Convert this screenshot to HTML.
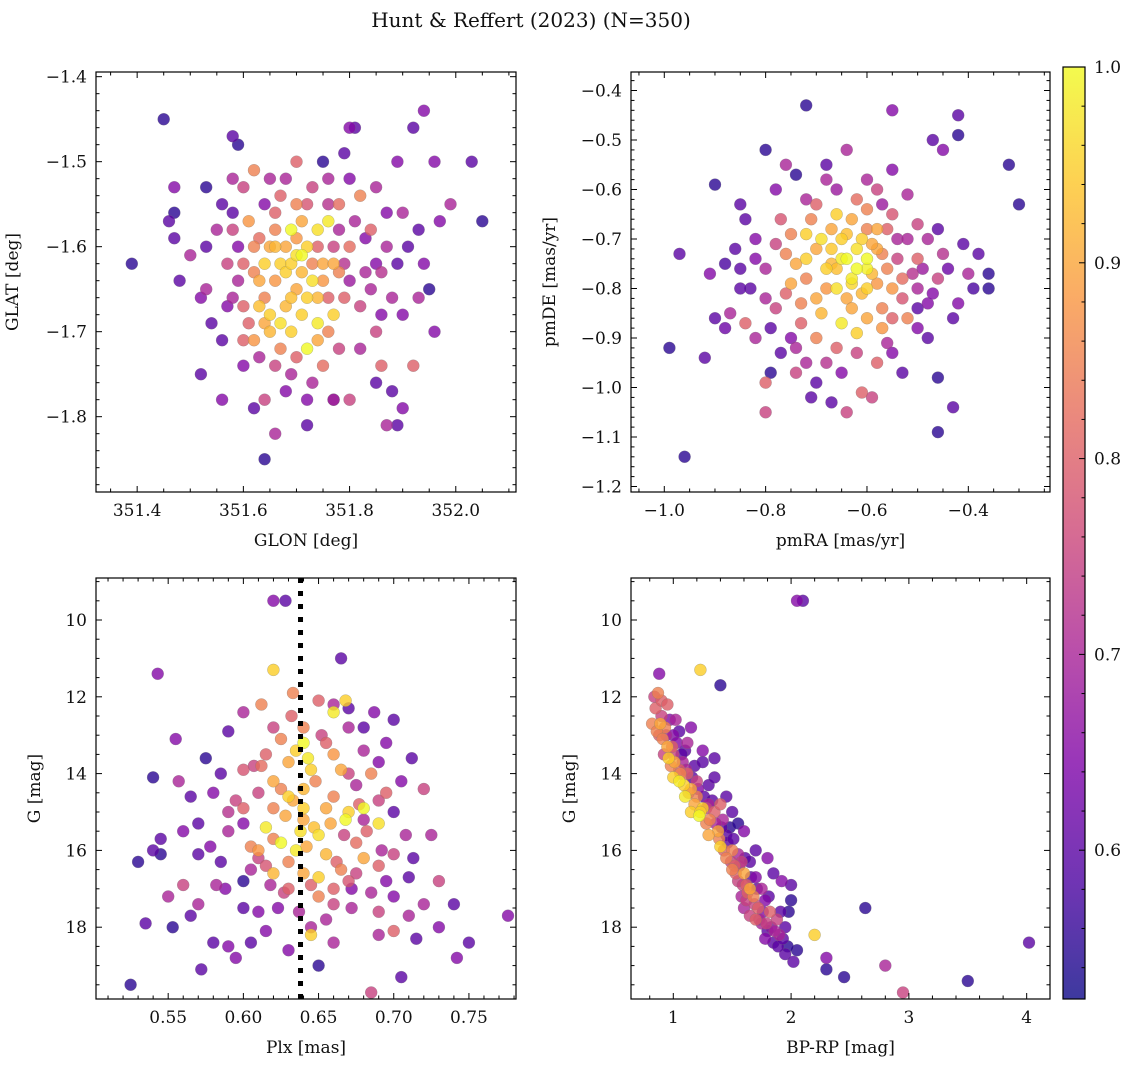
<!DOCTYPE html>
<html><head><meta charset="utf-8"><style>
html,body{margin:0;padding:0;background:#fff;}
svg text{font-family:"DejaVu Serif","Liberation Serif",serif;fill:#111;}
</style></head><body>
<svg id="fig" width="1136" height="1067" viewBox="0 0 1136 1067" xmlns="http://www.w3.org/2000/svg">
<text x="531" y="27" font-size="20" text-anchor="middle">Hunt &amp; Reffert (2023) (N=350)</text>
</svg>
<script>
// ---------- data (x, y, membership probability) ----------
const glonGlat = [
[351.39,-1.62,.55],[351.45,-1.45,.55],[351.46,-1.57,.6],[351.47,-1.53,.65],[351.47,-1.56,.55],[351.47,-1.59,.6],[351.50,-1.61,.7],[351.52,-1.75,.6],[351.53,-1.53,.55],[351.53,-1.65,.7],[351.54,-1.69,.6],[351.56,-1.78,.65],[351.58,-1.47,.6],[351.59,-1.48,.55],[351.58,-1.52,.7],[351.60,-1.71,.8],[351.64,-1.85,.55],[351.66,-1.82,.7],[351.64,-1.78,.75],[351.70,-1.5,.8],[351.72,-1.81,.6],[351.77,-1.78,.6],[351.80,-1.46,.65],[351.81,-1.46,.6],[351.80,-1.78,.75],[351.87,-1.81,.7],[351.89,-1.81,.6],[351.90,-1.79,.65],[351.92,-1.46,.6],[351.94,-1.44,.65],[351.89,-1.5,.65],[351.96,-1.5,.65],[351.99,-1.55,.7],[352.03,-1.5,.6],[352.05,-1.57,.55],[351.95,-1.65,.55],[351.96,-1.7,.65],[351.92,-1.74,.8],[351.86,-1.74,.8],[351.88,-1.77,.6],[351.77,-1.78,.7],[351.75,-1.5,.55],[351.79,-1.49,.6],[351.85,-1.53,.7],[351.90,-1.56,.7],[351.93,-1.66,.7],[351.91,-1.6,.6],[351.97,-1.57,.65],
[351.65,-1.6,.9],[351.67,-1.62,.95],[351.69,-1.58,1.0],[351.72,-1.6,.95],[351.74,-1.58,.97],[351.76,-1.57,.98],[351.70,-1.65,.9],[351.68,-1.67,.92],[351.66,-1.64,.88],[351.64,-1.66,.85],[351.62,-1.63,.85],[351.73,-1.64,.97],[351.75,-1.62,.9],[351.78,-1.63,.85],[351.80,-1.6,.82],[351.71,-1.68,.95],[351.74,-1.71,.9],[351.69,-1.7,.95],[351.67,-1.72,.85],[351.72,-1.72,1.0],[351.77,-1.68,.95],[351.79,-1.66,.8],[351.63,-1.59,.82],[351.61,-1.57,.88],[351.66,-1.56,.8],[351.70,-1.55,.85],[351.78,-1.55,.82],[351.82,-1.54,.85],[351.84,-1.58,.8],[351.60,-1.67,.8],[351.62,-1.71,.88],[351.65,-1.7,.92],[351.75,-1.74,.82],[351.85,-1.7,.75],[351.82,-1.67,.75],[351.83,-1.63,.7],[351.87,-1.6,.7],[351.57,-1.62,.75],[351.55,-1.58,.7],[351.58,-1.66,.7],[351.60,-1.53,.75],[351.62,-1.51,.85],[351.68,-1.52,.7],[351.73,-1.53,.75],[351.76,-1.52,.7],[351.88,-1.66,.7],[351.86,-1.68,.65],[351.63,-1.73,.7],[351.69,-1.75,.7],[351.73,-1.76,.7],[351.85,-1.62,.65],[351.59,-1.6,.65],[351.64,-1.55,.65],[351.71,-1.57,.9],[351.68,-1.63,.95],[351.74,-1.66,.92],[351.65,-1.68,.95],[351.70,-1.61,.97]
];
const glonGlatCore = [
[351.56,-1.55,.6],[351.58,-1.58,.75],[351.6,-1.62,.8],[351.62,-1.6,.85],[351.63,-1.64,.9],[351.64,-1.62,.95],[351.66,-1.6,.92],[351.66,-1.58,.85],[351.68,-1.6,.9],[351.69,-1.62,.95],[351.7,-1.59,.88],[351.71,-1.63,.92],[351.72,-1.66,.95],[351.73,-1.62,.85],[351.74,-1.6,.8],[351.75,-1.64,.88],[351.76,-1.66,.8],[351.77,-1.6,.75],[351.78,-1.58,.7],[351.79,-1.62,.72],[351.8,-1.64,.68],[351.81,-1.57,.7],[351.83,-1.59,.65],[351.84,-1.65,.7],[351.86,-1.63,.72],[351.87,-1.56,.65],[351.89,-1.62,.6],[351.9,-1.68,.65],[351.82,-1.72,.7],[351.78,-1.72,.75],[351.76,-1.7,.85],[351.7,-1.73,.8],[351.66,-1.74,.75],[351.64,-1.69,.9],[351.61,-1.69,.8],[351.59,-1.64,.7],[351.57,-1.67,.65],[351.56,-1.71,.6],[351.6,-1.74,.65],[351.67,-1.54,.8],[351.72,-1.55,.78],[351.76,-1.55,.72],[351.8,-1.52,.65],[351.65,-1.52,.7],[351.58,-1.56,.6],[351.53,-1.6,.6],[351.52,-1.66,.65],[351.48,-1.64,.6],[351.93,-1.58,.6],[351.94,-1.62,.65],[351.85,-1.76,.6],[351.72,-1.78,.65],[351.62,-1.79,.6],[351.68,-1.77,.65],[351.74,-1.69,.98],[351.69,-1.66,.93],[351.71,-1.61,1.0],[351.63,-1.67,.93],[351.77,-1.62,.9],[351.67,-1.69,.97]
];
const pmraPmde = [
[-0.96,-1.14,.55],[-0.99,-0.92,.55],[-0.97,-0.73,.6],[-0.92,-0.94,.6],[-0.91,-0.77,.65],[-0.9,-0.59,.55],[-0.9,-0.86,.6],[-0.85,-0.63,.6],[-0.86,-0.72,.6],[-0.85,-0.76,.6],[-0.87,-0.85,.7],[-0.8,-0.52,.55],[-0.79,-0.97,.55],[-0.78,-0.6,.65],[-0.76,-0.55,.7],[-0.74,-0.57,.55],[-0.72,-0.43,.55],[-0.71,-1.02,.6],[-0.68,-0.55,.6],[-0.67,-1.03,.6],[-0.64,-0.52,.7],[-0.64,-1.05,.75],[-0.61,-1.01,.8],[-0.59,-1.02,.75],[-0.55,-0.44,.65],[-0.55,-0.56,.65],[-0.52,-0.61,.7],[-0.5,-0.67,.75],[-0.47,-0.5,.6],[-0.45,-0.52,.65],[-0.42,-0.45,.6],[-0.42,-0.49,.55],[-0.46,-1.09,.55],[-0.43,-1.04,.6],[-0.46,-0.98,.55],[-0.38,-0.73,.6],[-0.36,-0.77,.55],[-0.36,-0.8,.55],[-0.32,-0.55,.55],[-0.3,-0.63,.55],[-0.4,-0.77,.7],[-0.42,-0.83,.65],[-0.48,-0.9,.6],[-0.5,-0.84,.6],[-0.55,-0.93,.65],[-0.8,-1.05,.75],[-0.8,-0.99,.8],[-0.83,-0.8,.6],[-0.82,-0.9,.7],[-0.74,-0.97,.75],
[-0.65,-0.7,.95],[-0.62,-0.72,.97],[-0.6,-0.74,1.0],[-0.67,-0.75,.92],[-0.7,-0.72,.9],[-0.72,-0.69,.95],[-0.66,-0.65,.95],[-0.63,-0.66,.9],[-0.6,-0.68,.85],[-0.58,-0.72,.9],[-0.56,-0.76,.85],[-0.55,-0.8,.88],[-0.6,-0.8,.95],[-0.64,-0.82,.9],[-0.68,-0.8,.88],[-0.72,-0.78,.85],[-0.75,-0.79,.9],[-0.76,-0.73,.85],[-0.69,-0.85,.92],[-0.65,-0.87,.98],[-0.62,-0.89,.95],[-0.6,-0.86,.9],[-0.57,-0.84,.85],[-0.53,-0.78,.82],[-0.5,-0.74,.8],[-0.52,-0.86,.85],[-0.7,-0.9,.85],[-0.73,-0.87,.8],[-0.78,-0.84,.75],[-0.8,-0.76,.7],[-0.77,-0.66,.78],[-0.7,-0.63,.8],[-0.62,-0.62,.82],[-0.55,-0.65,.78],[-0.48,-0.7,.7],[-0.46,-0.78,.75],[-0.45,-0.73,.72],[-0.5,-0.8,.7],[-0.58,-0.95,.8],[-0.66,-0.92,.8],[-0.72,-0.95,.7],[-0.75,-0.9,.65],[-0.84,-0.87,.8],[-0.82,-0.7,.65],[-0.68,-0.58,.7],[-0.58,-0.6,.75],[-0.54,-0.7,.7],[-0.48,-0.83,.65],[-0.63,-0.78,.98],[-0.66,-0.76,.93],[-0.59,-0.77,.92],[-0.61,-0.7,.95],[-0.57,-0.88,.88],[-0.64,-0.74,1.0]
];
const pmraPmdeCore = [
[-0.84,-0.66,.6],[-0.82,-0.74,.65],[-0.8,-0.82,.7],[-0.79,-0.88,.6],[-0.78,-0.71,.75],[-0.76,-0.81,.8],[-0.75,-0.69,.85],[-0.74,-0.75,.9],[-0.73,-0.83,.85],[-0.72,-0.74,.95],[-0.71,-0.66,.85],[-0.7,-0.82,.9],[-0.69,-0.7,.97],[-0.68,-0.76,.95],[-0.67,-0.68,.9],[-0.66,-0.8,.97],[-0.65,-0.74,.98],[-0.64,-0.69,.93],[-0.63,-0.84,.9],[-0.62,-0.76,1.0],[-0.61,-0.81,.92],[-0.6,-0.64,.85],[-0.59,-0.71,.9],[-0.58,-0.79,.88],[-0.57,-0.73,.85],[-0.56,-0.68,.8],[-0.55,-0.86,.8],[-0.54,-0.74,.75],[-0.53,-0.82,.78],[-0.52,-0.7,.7],[-0.51,-0.77,.72],[-0.5,-0.88,.65],[-0.49,-0.76,.68],[-0.47,-0.81,.65],[-0.46,-0.68,.6],[-0.44,-0.76,.62],[-0.43,-0.86,.6],[-0.41,-0.71,.6],[-0.39,-0.8,.58],[-0.62,-0.93,.75],[-0.68,-0.95,.72],[-0.74,-0.92,.7],[-0.56,-0.91,.7],[-0.6,-0.58,.7],[-0.66,-0.6,.68],[-0.72,-0.62,.7],[-0.57,-0.63,.68],[-0.85,-0.8,.6],[-0.88,-0.75,.58],[-0.88,-0.88,.62],[-0.65,-0.97,.65],[-0.53,-0.97,.6],[-0.7,-0.99,.6],[-0.77,-0.93,.6],[-0.63,-0.79,.96],[-0.67,-0.72,.94],[-0.6,-0.76,.99],[-0.58,-0.68,.9]
];
const plxG = [
[0.525,19.5,.55],[0.53,16.3,.55],[0.535,17.9,.6],[0.54,16.0,.6],[0.54,14.1,.55],[0.545,16.1,.55],[0.543,11.4,.65],[0.545,15.7,.6],[0.55,17.2,.7],[0.553,18.0,.55],[0.555,13.1,.65],[0.557,14.2,.7],[0.56,15.5,.65],[0.56,16.9,.75],[0.565,14.6,.6],[0.57,17.4,.7],[0.572,19.1,.6],[0.575,13.6,.55],[0.578,15.9,.65],[0.58,18.4,.6],[0.582,16.9,.7],[0.585,14.0,.6],[0.588,17.0,.65],[0.59,12.9,.6],[0.59,15.5,.7],[0.595,18.8,.65],[0.595,14.7,.75],[0.6,16.8,.55],[0.6,12.4,.7],[0.605,18.4,.6],[0.607,13.8,.75],[0.61,17.6,.65],[0.61,16.2,.75],[0.612,12.2,.85],[0.62,11.3,.95],[0.62,9.5,.65],[0.628,9.5,.6],[0.65,19.0,.55],[0.665,11.0,.6],[0.67,12.3,.6],[0.68,12.8,.6],[0.685,19.7,.75],[0.69,18.2,.7],[0.69,13.7,.65],[0.7,12.6,.6],[0.705,19.3,.6],[0.71,17.7,.7],[0.713,16.2,.6],[0.72,14.4,.75],[0.72,17.4,.7],[0.725,15.6,.7],[0.73,16.8,.75],[0.74,17.4,.6],[0.742,18.8,.65],[0.75,18.4,.6],[0.776,17.7,.65],[0.73,18.0,.65],[0.7,15.0,.6],[0.695,16.8,.65],[0.69,17.6,.75],[0.7,18.1,.8],[0.68,15.2,.7],[0.66,17.4,.75],[0.672,17.0,.65],[0.675,14.3,.7],[0.66,12.2,.7],[0.645,18.0,.7],[0.63,18.6,.65],[0.59,18.5,.65],[0.57,15.3,.6],
[0.62,14.2,.9],[0.625,15.8,1.0],[0.63,14.6,.95],[0.635,16.0,.98],[0.64,15.2,.9],[0.645,13.9,.95],[0.64,13.2,1.0],[0.65,15.6,.97],[0.655,14.9,.9],[0.66,13.5,.88],[0.66,12.4,.98],[0.665,16.5,.85],[0.67,15.0,.95],[0.68,14.9,1.0],[0.685,14.0,.85],[0.69,15.3,.97],[0.64,12.8,.85],[0.63,13.7,.9],[0.62,14.9,.85],[0.615,15.4,.98],[0.61,16.0,.88],[0.612,13.8,.82],[0.6,14.9,.8],[0.605,15.9,.85],[0.63,17.0,.8],[0.64,16.6,.9],[0.65,17.2,.85],[0.655,16.1,.92],[0.66,17.0,.8],[0.67,16.8,.78],[0.675,15.8,.82],[0.68,16.2,.9],[0.69,16.4,.8],[0.645,18.2,.95],[0.668,12.1,.95],[0.655,13.2,.8],[0.62,15.7,.85],[0.627,17.1,.75],[0.633,11.9,.85],[0.615,16.4,.78],[0.59,15.0,.72],[0.6,13.9,.78],[0.695,14.5,.8],[0.7,16.1,.75],[0.67,14.0,.75],[0.64,14.4,.92],[0.647,15.4,.93],[0.633,14.7,.9]
];
const plxGCore = [
[0.6,15.3,.65],[0.605,16.5,.7],[0.61,14.5,.75],[0.615,13.5,.8],[0.618,16.9,.7],[0.62,12.8,.75],[0.623,17.5,.65],[0.625,14.4,.85],[0.628,15.1,.9],[0.63,16.3,.85],[0.632,12.5,.8],[0.635,13.4,.95],[0.637,17.6,.7],[0.64,14.9,.95],[0.642,15.9,.9],[0.645,16.9,.8],[0.648,14.2,.85],[0.65,12.1,.8],[0.652,13.0,.75],[0.655,17.8,.7],[0.658,15.3,.9],[0.66,14.6,.85],[0.662,16.3,.8],[0.665,13.9,.9],[0.667,15.6,.75],[0.67,12.8,.7],[0.672,17.5,.7],[0.675,16.6,.75],[0.677,14.8,.8],[0.68,13.4,.7],[0.682,15.5,.8],[0.685,17.1,.7],[0.687,12.4,.65],[0.69,14.7,.75],[0.692,16.0,.7],[0.695,13.2,.65],[0.7,17.2,.65],[0.705,14.2,.65],[0.708,15.6,.7],[0.71,16.7,.6],[0.712,13.6,.6],[0.715,18.3,.6],[0.66,18.4,.7],[0.615,18.1,.65],[0.6,17.5,.6],[0.585,16.3,.6],[0.58,14.5,.65],[0.57,16.1,.6],[0.565,17.7,.6],[0.625,13.1,.85],[0.638,15.5,.97],[0.65,16.7,.95],[0.668,15.2,1.0],[0.62,16.6,.92],[0.643,13.6,.98]
];
const colorG = [
[2.05,9.5,.65],[2.1,9.5,.6],[1.23,11.3,.95],[0.88,11.4,.65],[1.4,11.7,.55],[2.2,18.2,.95],[2.3,18.8,.65],[2.3,19.1,.55],[2.45,19.3,.55],[2.63,17.5,.55],[2.8,19.0,.7],[2.95,19.7,.75],[3.5,19.4,.55],[4.02,18.4,.6],
[0.82,12.7,.85],[0.85,12.3,.8],[0.87,11.9,.85],[0.9,12.1,.8],[0.9,12.5,.75],[0.93,12.8,.85],[0.88,13.0,.8],[0.95,13.3,.9],[0.92,13.5,.75],[1.0,13.0,.65],[1.02,12.6,.7],[1.05,12.9,.6],[0.98,13.8,.85],[1.0,14.1,.95],[1.05,14.2,.98],[1.08,13.7,.7],[1.1,13.4,.6],[1.12,14.0,.8],[1.15,14.4,.9],[1.18,13.8,.6],[1.2,14.6,.85],[1.25,14.9,.95],[1.22,15.1,1.0],[1.3,14.8,.7],[1.3,14.3,.6],[1.35,15.0,.8],[1.28,15.3,.85],[1.38,15.5,.9],[1.42,15.2,.7],[1.45,15.6,.6],[1.4,15.9,.95],[1.5,16.0,.85],[1.48,15.4,.55],[1.52,16.4,.8],[1.55,16.1,.7],[1.6,16.6,.9],[1.55,16.8,.75],[1.62,16.9,.8],[1.65,16.3,.6],[1.58,17.2,.7],[1.68,17.2,.85],[1.7,16.7,.65],[1.72,17.5,.8],[1.65,17.7,.75],[1.75,17.9,.7],[1.78,17.3,.65],[1.8,18.1,.6],[1.82,17.6,.8],[1.85,18.4,.6],[1.9,18.2,.7],[1.88,17.8,.75],[1.95,18.0,.6],[2.0,17.3,.55],[2.0,16.9,.6],[1.92,16.8,.65],[1.85,16.6,.6],[1.8,16.2,.65],[1.95,18.7,.6],[2.05,18.6,.55],[2.02,18.9,.6],[1.7,16.0,.6],[1.6,15.5,.65],[1.5,15.0,.6],[1.45,14.6,.6],[1.35,13.6,.6],[1.25,13.4,.65],[1.15,12.8,.65],[1.05,13.9,.8],[1.1,14.6,.98],[1.0,13.5,.75],[0.95,12.2,.8],[1.2,14.2,.75],[1.3,15.6,.9],[1.45,16.2,.85],[1.58,16.3,.75],[1.65,17.0,.9],[1.75,17.0,.7],[1.78,18.3,.65],[1.6,17.5,.7],[1.4,14.8,.8],[1.15,15.0,.95],[1.12,13.2,.7]
];
const colorGCore = [
[0.84,12.0,.75],[0.86,12.9,.85],[0.89,12.7,.9],[0.91,13.1,.85],[0.94,13.0,.7],[0.96,13.6,.95],[0.97,12.6,.65],[0.99,13.3,.8],[1.01,13.7,.9],[1.03,13.2,.65],[1.06,14.0,.85],[1.07,13.5,.6],[1.09,14.3,.95],[1.11,13.9,.7],[1.13,14.5,.85],[1.16,14.1,.6],[1.18,14.8,.9],[1.21,14.4,.65],[1.23,15.0,.95],[1.26,14.6,.6],[1.28,14.9,.75],[1.31,15.2,.85],[1.33,14.7,.6],[1.36,15.3,.7],[1.39,15.7,.85],[1.41,15.4,.6],[1.43,16.0,.8],[1.46,15.8,.6],[1.49,16.3,.75],[1.51,15.7,.6],[1.53,16.6,.8],[1.56,16.4,.65],[1.59,16.9,.75],[1.61,16.2,.6],[1.63,17.1,.8],[1.66,16.7,.6],[1.69,17.4,.75],[1.71,17.0,.6],[1.73,17.8,.7],[1.76,17.6,.65],[1.79,17.9,.75],[1.81,17.2,.6],[1.83,18.0,.65],[1.86,18.1,.7],[1.89,18.5,.6],[1.91,17.6,.6],[1.93,18.3,.6],[1.97,18.5,.55],[1.98,17.6,.55],[1.55,15.3,.55],[1.35,14.1,.6],[1.25,13.7,.6],[1.7,17.8,.8],[1.5,16.5,.85],[1.62,17.3,.75]
];
const glonTicks = [351.4,351.6,351.8,352.0];
const glatTicks = [-1.4,-1.5,-1.6,-1.7,-1.8];
const pmraTicks = [-1.0,-0.8,-0.6,-0.4];
const pmdeTicks = [-0.4,-0.5,-0.6,-0.7,-0.8,-0.9,-1.0,-1.1,-1.2];
const plxTicks = [0.55,0.60,0.65,0.70,0.75];
const gTicks = [10,12,14,16,18];
const bprpTicks = [1,2,3,4];
const cbarTicks = [0.6,0.7,0.8,0.9,1.0];
const plxMeanLine = [0.638];

// ---------- rendering ----------
const NS='http://www.w3.org/2000/svg';
const svg=document.getElementById('fig');
const VMIN=0.524, VMAX=1.0;
const plasma=[[0,'#0d0887'],[0.125,'#4c02a1'],[0.25,'#7e03a8'],[0.375,'#a92395'],[0.5,'#cc4778'],[0.625,'#e56b5d'],[0.75,'#f89540'],[0.875,'#fdc527'],[1,'#f0f921']];
function hex(h){return [1,3,5].map(i=>parseInt(h.substr(i,2),16));}
function cmap(t){t=Math.max(0,Math.min(1,t));for(let i=1;i<plasma.length;i++){if(t<=plasma[i][0]){const a=plasma[i-1],b=plasma[i];const f=(t-a[0])/(b[0]-a[0]);const A=hex(a[1]),B=hex(b[1]);return 'rgb('+A.map((v,k)=>Math.round(v+(B[k]-v)*f)).join(',')+')';}}return plasma[plasma.length-1][1];}
function mk(tag,attrs,parent){const e=document.createElementNS(NS,tag);for(const k in attrs)e.setAttribute(k,attrs[k]);(parent||svg).appendChild(e);return e;}
function fmt(v,d){return (v<0?'\u2212':'')+Math.abs(v).toFixed(d);}

const panels=[
 {name:'glon-glat',box:[96,72,516,492],xr:[351.3225,352.1134],yr:[-1.3945,-1.8886],xt:glonTicks,yt:glatTicks,xd:1,yd:1,xmin:4,ymin:5,xl:'GLON [deg]',yl:'GLAT [deg]',ylx:18,pts:glonGlat.concat(glonGlatCore)},
 {name:'pmra-pmde',box:[631,72,1050,492],xr:[-1.0657,-0.2388],yr:[-0.3626,-1.2111],xt:pmraTicks,yt:pmdeTicks,xd:1,yd:1,xmin:4,ymin:5,xl:'pmRA [mas/yr]',yl:'pmDE [mas/yr]',ylx:555,pts:pmraPmde.concat(pmraPmdeCore)},
 {name:'plx-g',box:[96,578,516,999],xr:[0.502,0.7813],yr:[8.906,19.87],xt:plxTicks,yt:gTicks,xd:2,yd:0,xmin:5,ymin:4,xl:'Plx [mas]',yl:'G [mag]',ylx:40,pts:plxG.concat(plxGCore),vline:plxMeanLine},
 {name:'bprp-g',box:[631,578,1050,999],xr:[0.641,4.198],yr:[8.906,19.87],xt:bprpTicks,yt:gTicks,xd:0,yd:0,xmin:5,ymin:4,xl:'BP-RP [mag]',yl:'G [mag]',ylx:575,pts:colorG.concat(colorGCore)}
];

panels.forEach(P=>{
 const [x0,y0,x1,y1]=P.box;
 const sx=v=>x0+(v-P.xr[0])/(P.xr[1]-P.xr[0])*(x1-x0);
 const sy=v=>y0+(v-P.yr[0])/(P.yr[1]-P.yr[0])*(y1-y0);
 const g=mk('g',{});
 
 
 const clipId='clip-'+P.name;
 const cp=mk('clipPath',{id:clipId},g);mk('rect',{x:x0,y:y0,width:x1-x0,height:y1-y0},cp);
 const pg=mk('g',{'clip-path':'url(#'+clipId+')'},g);
 
 
 const pts=P.pts.slice().sort((a,b)=>a[2]-b[2]);
 pts.forEach(p=>{
  const c=mk('circle',{cx:sx(p[0]).toFixed(1),cy:sy(p[1]).toFixed(1),r:6,fill:cmap((p[2]-VMIN)/(VMAX-VMIN)),'fill-opacity':0.8,stroke:'#777','stroke-opacity':0.5,'stroke-width':0.5},pg);
  
  
 });
 if(P.vline){P.vline.forEach(v=>{const l=mk('line',{x1:sx(v),x2:sx(v),y1:y0,y2:y1,stroke:'#000','stroke-width':5,'stroke-dasharray':'5,8'},pg);
  
  });}
 const fr=mk('rect',{x:x0,y:y0,width:x1-x0,height:y1-y0,fill:'none',stroke:'#000','stroke-width':1.2},g);
 
 
 const tk=mk('g',{stroke:'#000','stroke-width':1},g);
 const xs=P.xt[1]-P.xt[0], ys=P.yt[1]-P.yt[0];
 for(let i=-3;i<P.xt.length+3;i++){for(let j=0;j<P.xmin;j++){const v=P.xt[0]+xs*(i+j/P.xmin);const X=sx(v);if(X<x0+0.5||X>x1-0.5)continue;const L=j==0?6:3.5;mk('line',{x1:X,x2:X,y1:y1,y2:y1-L},tk);mk('line',{x1:X,x2:X,y1:y0,y2:y0+L},tk);}}
 for(let i=-3;i<P.yt.length+3;i++){for(let j=0;j<P.ymin;j++){const v=P.yt[0]+ys*(i+j/P.ymin);const Y=sy(v);if(Y<y0+0.5||Y>y1-0.5)continue;const L=j==0?6:3.5;mk('line',{x1:x0,x2:x0+L,y1:Y,y2:Y},tk);mk('line',{x1:x1,x2:x1-L,y1:Y,y2:Y},tk);}}
 P.xt.forEach(v=>{const t=mk('text',{x:sx(v),y:y1+24,'font-size':17,'text-anchor':'middle'},g);t.textContent=fmt(v,P.xd);
  
  });
 P.yt.forEach(v=>{const t=mk('text',{x:x0-9,y:sy(v)+6,'font-size':17,'text-anchor':'end'},g);t.textContent=fmt(v,P.yd);
  
  });
 const xl=mk('text',{x:(x0+x1)/2,y:y1+54,'font-size':17,'text-anchor':'middle'},g);xl.textContent=P.xl;
 
 
 const cy=(y0+y1)/2;
 const yl=mk('text',{x:P.ylx,y:cy,'font-size':17,'text-anchor':'middle',transform:'rotate(-90 '+P.ylx+' '+cy+')'},g);yl.textContent=P.yl;
 
 
});

// colorbar
(function(){
 const x0=1063,x1=1085,y0=67,y1=999;
 const sy=v=>y1-(v-VMIN)/(VMAX-VMIN)*(y1-y0);
 const g=mk('g',{});
 
 
 const defs=mk('defs',{},g);
 const lg=mk('linearGradient',{id:'cbgrad',x1:0,y1:1,x2:0,y2:0},defs);
 plasma.forEach(s=>mk('stop',{offset:s[0],'stop-color':s[1]},lg));
 const r=mk('rect',{x:x0,y:y0,width:x1-x0,height:y1-y0,fill:'url(#cbgrad)','fill-opacity':0.8},g);
 
 
 mk('rect',{x:x0,y:y0,width:x1-x0,height:y1-y0,fill:'none',stroke:'#000','stroke-width':1.2},g);
 const step=cbarTicks[1]-cbarTicks[0];
 for(let i=-4;i<cbarTicks.length+1;i++){for(let j=0;j<5;j++){const v=cbarTicks[0]+step*(i+j/5);const Y=sy(v);if(Y<y0+0.5||Y>y1-0.5)continue;const L=j==0?6:3.5;mk('line',{x1:x1,x2:x1-L,y1:Y,y2:Y,stroke:'#000','stroke-width':1},g);}}
 cbarTicks.forEach(v=>{const t=mk('text',{x:x1+9,y:sy(v)+6,'font-size':17},g);t.textContent=v.toFixed(1);
  
  });
})();
</script>
</body></html>
